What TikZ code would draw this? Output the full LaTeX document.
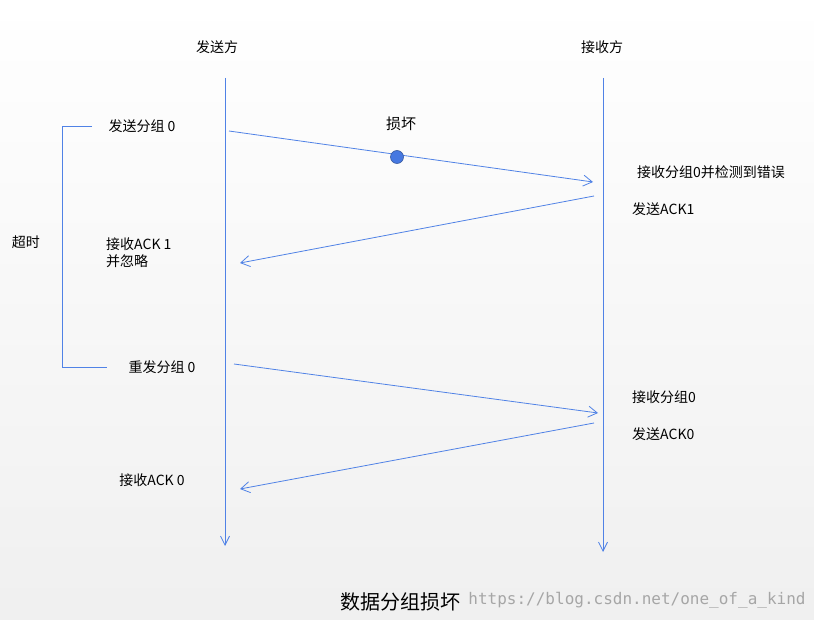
\documentclass[tikz,border=0pt]{standalone}
\usepackage{fontspec}
\setmainfont{Noto Sans CJK SC}
\newfontfamily\wm{DejaVu Sans Mono}
\usetikzlibrary{arrows.meta}
\definecolor{ln}{RGB}{80,130,230}
\definecolor{dotc}{RGB}{70,120,225}
\tikzset{lbl/.style={font=\fontsize{14}{16}\selectfont, inner sep=0pt},
 msg/.style={ln, line width=0.8pt, -{Straight Barb[length=9pt,width=11pt]}},
 life/.style={ln, line width=0.8pt, -{Straight Barb[length=9pt,width=9pt]}},
 brk/.style={ln, line width=0.8pt}}
\begin{document}
\begin{tikzpicture}[x=1pt,y=-1pt]
\useasboundingbox (0,0) rectangle (814,620);
\shade[top color=white, bottom color=black!6] (0,0) rectangle (814,620);
% lifelines
\coordinate (s0) at (225,78); \coordinate (s1) at (225,546);
\coordinate (r0) at (603,78); \coordinate (r1) at (603,552);
\draw[life] (s0) -- (s1);
\draw[life] (r0) -- (r1);
\node[lbl] (sh) at (217,47) {发送方};
\node[lbl] (rh) at (602,47) {接收方};
% messages
\coordinate (a1) at (229,131); \coordinate (b1) at (593,182);
\coordinate (a2) at (594,196); \coordinate (b2) at (240,263);
\coordinate (a3) at (234,364); \coordinate (b3) at (598,413);
\coordinate (a4) at (594,423); \coordinate (b4) at (240,489);
\draw[msg] (a1) -- (b1);
\draw[msg] (a2) -- (b2);
\draw[msg] (a3) -- (b3);
\draw[msg] (a4) -- (b4);
\node[circle, fill=dotc, draw=ln!70!black, line width=0.6pt, minimum size=13pt, inner sep=0pt] (dot) at (397,157) {};
\node[lbl, font=\fontsize{15}{17}\selectfont] (dmg) at (401,124) {损坏};
% bracket
\coordinate (k1) at (92,126); \coordinate (k2) at (62,126);
\coordinate (k3) at (62,367); \coordinate (k4) at (107,367);
\draw[brk] (k1) -- (k2) -- (k3) -- (k4);
\node[lbl] (to) at (26,242) {超时};
% labels
\node[lbl] (t1) at (142,126) {发送分组 0};
\node[lbl] (t2) at (711,172) {接收分组0并检测到错误};
\node[lbl, anchor=west] (t3) at (632,209) {发送ACK1};
\node[lbl, anchor=west, align=left] (t4) at (106,253) {接收ACK 1\\[1pt]并忽略};
\node[lbl] (t5) at (162,367) {重发分组 0};
\node[lbl, anchor=west] (t6) at (632,397) {接收分组0};
\node[lbl, anchor=west] (t7) at (632,434) {发送ACK0};
\node[lbl] (t8) at (152,480) {接收ACK 0};
\node[font=\fontsize{20}{22}\selectfont, inner sep=0pt] (cap) at (400,602) {数据分组损坏};
\node[font=\wm\fontsize{16}{18}\selectfont, text=black!35, inner sep=0pt] (wm) at (637,600) {https://blog.csdn.net/one\_of\_a\_kind};
\end{tikzpicture}
\end{document}
